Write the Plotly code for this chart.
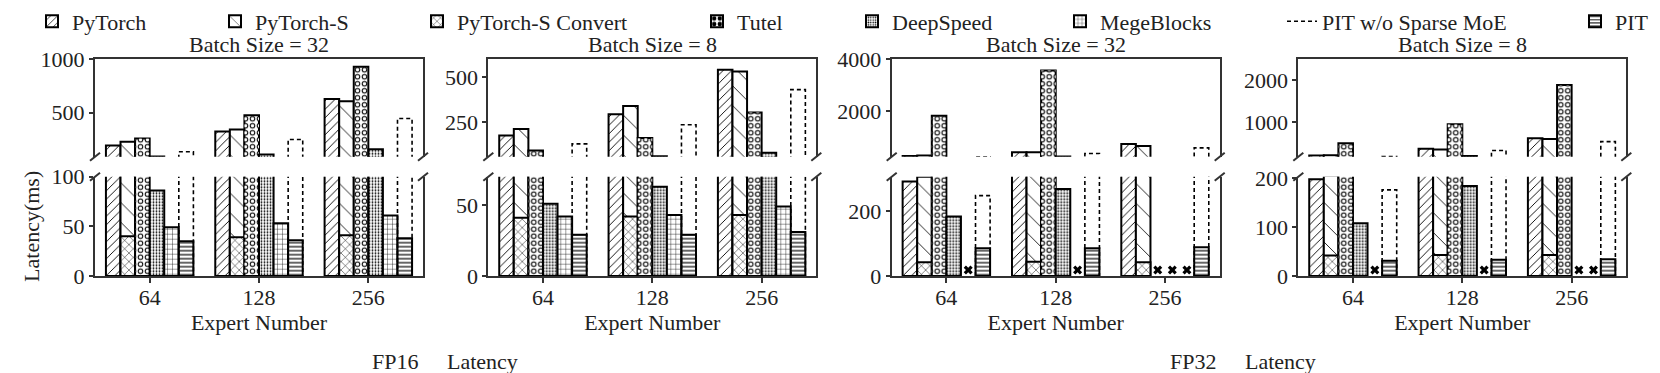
import plotly.graph_objects as go

FONT = "Liberation Serif"
PAGE_W, PAGE_H = 1660, 373
OFF = 8  # default body margin of the html page
W, H = PAGE_W - OFF, PAGE_H - OFF

experts = ["64", "128", "256"]
panel_titles = ["Batch Size = 32", "Batch Size = 8", "Batch Size = 32", "Batch Size = 8"]
bottom_labels = ["FP16", "FP32"]

# latency (ms), one row per panel: FP16 bs32, FP16 bs8, FP32 bs32, FP32 bs8
pytorch = [[190, 322, 628], [177, 296, 542], [290, 432, 751], [198, 359, 609]]
pytorch_s = [[225, 340, 606], [213, 341, 533], [305, 428, 675], [205, 344, 594]]
pytorch_s_convert = [[40, 39, 41], [41, 42, 43], [42, 44, 42], [42, 43, 43]]
tutel = [[256, 475, 931], [95, 164, 305], [1834, 3567, None], [492, 945, 1883]]
deepspeed = [[86, 105, 156], [51, 63, 82], [183, 267, None], [108, 184, None]]
megablocks = [[49, 53, 61], [42, 43, 49], [None, None, None], [None, None, None]]
pit_wo_sparse = [[131, 247, 444], [131, 237, 432], [247, 380, 598], [176, 320, 531]]
pit = [[35, 36, 38], [29, 29, 31], [85, 85, 88], [31, 33, 34]]

# broken y axes
upper_ranges = [[85, 1000], [60, 600], [260, 4000], [170, 2500]]
lower_ranges = [[0, 100], [0, 70], [0, 305], [0, 203]]
upper_ticks = [[500, 1000], [250, 500], [2000, 4000], [1000, 2000]]
lower_ticks = [[0, 50, 100], [0, 50], [0, 200], [0, 100, 200]]

# name, data, slot, pattern shape, size, solidity
bars = [
    ("PyTorch", pytorch, 0, "/", 6, 0.15),
    ("PyTorch-S", pytorch_s, 1, "\\", 14, 0.06),
    ("PyTorch-S Convert", pytorch_s_convert, 1, "x", 6, 0.15),
    ("Tutel", tutel, 2, ".", 7, 0.5),
    ("DeepSpeed", deepspeed, 3, ".", 3, 0.3),
    ("MegeBlocks", megablocks, 4, "+", 5, 0.15),
    ("PIT", pit, 5, "-", 4, 0.3),
]
legend_text_x = {"PyTorch": 72, "PyTorch-S": 255, "PyTorch-S Convert": 457, "Tutel": 737,
                 "DeepSpeed": 892, "MegeBlocks": 1100, "PIT w/o Sparse MoE": 1322, "PIT": 1615}
legend_order = list(legend_text_x)


def fx(px):
    return (px - OFF) / W


def fy(py):
    return 1 - (py - OFF) / H


panel_left = [95, 488.3, 891.7, 1298.3]
panel_w = 328
upper_dom = [fy(156.7), fy(59.3)]
lower_dom = [fy(276), fy(176.7)]

slot_w = 0.8 / 6
xs = [0, 1, 2]
AX = "#333333"
FS = 22

fig = go.Figure()


def legend_key(name):
    i = legend_order.index(name)
    return "legend" if i == 0 else f"legend{i + 1}"


def ax_id(n):
    return "" if n == 1 else str(n)


for p in range(4):
    for part in ("upper", "lower"):
        n = 2 * p + 1 if part == "upper" else 2 * p + 2
        xa, ya = "x" + ax_id(n), "y" + ax_id(n)
        first = p == 0 and part == "lower"
        for name, data, slot, shape, size, sol in bars:
            vals = data[p]
            off = -0.4 + slot * slot_w
            fig.add_trace(go.Bar(
                x=xs, y=vals, width=slot_w, offset=off, name=name,
                xaxis=xa, yaxis=ya, showlegend=first, legend=legend_key(name),
                marker=dict(color="white", line=dict(color="black", width=2),
                            pattern=dict(shape=shape, size=size, solidity=sol,
                                         fgcolor="black", bgcolor="white", fillmode="replace")),
                hoverinfo="skip"))
            if name == "Tutel":
                # hollow the dots into rings
                fig.add_trace(go.Bar(
                    x=xs, y=vals, width=slot_w, offset=off, xaxis=xa, yaxis=ya,
                    showlegend=False, hoverinfo="skip",
                    marker=dict(color="rgba(0,0,0,0)", line=dict(width=0),
                                pattern=dict(shape=".", size=size, solidity=0.2,
                                             fgcolor="white", bgcolor="rgba(0,0,0,0)",
                                             fillmode="replace"))))
        # PIT w/o Sparse MoE: dashed open box
        ox, oy = [], []
        off = -0.4 + 5 * slot_w
        for i, v in enumerate(pit_wo_sparse[p]):
            ox += [i + off, i + off, i + off + slot_w, i + off + slot_w, None]
            oy += [0, v, v, 0, None]
        fig.add_trace(go.Scatter(
            x=ox, y=oy, mode="lines", name="PIT w/o Sparse MoE", xaxis=xa, yaxis=ya,
            line=dict(color="black", width=1.6, dash="4px,3px"),
            showlegend=first, legend=legend_key("PIT w/o Sparse MoE"), hoverinfo="skip"))
        # unsupported cases marked with x
        if part == "lower":
            mx = []
            for name, data, slot, *_ in bars:
                for i, v in enumerate(data[p]):
                    if v is None:
                        mx.append(i - 0.4 + slot * slot_w + slot_w / 2)
            if mx:
                fig.add_trace(go.Scatter(
                    x=mx, y=[lower_ranges[p][1] * 0.06] * len(mx), mode="markers",
                    xaxis=xa, yaxis=ya, showlegend=False, hoverinfo="skip",
                    marker=dict(symbol="x", size=8, color="black")))

layout = dict(
    width=W, height=H, template="none", barmode="overlay",
    margin=dict(l=0, r=0, t=0, b=0, autoexpand=False),
    plot_bgcolor="white", paper_bgcolor="white",
    font=dict(family=FONT, size=FS, color="#222222"), shapes=[], annotations=[],
)

for p in range(4):
    dom = [fx(panel_left[p]), fx(panel_left[p] + panel_w)]
    u, l = 2 * p + 1, 2 * p + 2
    layout["xaxis" + ax_id(u)] = dict(
        domain=dom, range=[-0.5, 2.5], anchor="y" + ax_id(u), side="top", showline=True,
        linecolor=AX, linewidth=2, ticks="", showticklabels=False, showgrid=False,
        zeroline=False, automargin=False)
    layout["yaxis" + ax_id(u)] = dict(
        domain=upper_dom, range=upper_ranges[p], anchor="x" + ax_id(u), showline=True,
        mirror=True, linecolor=AX, linewidth=2, ticks="outside", ticklen=4, tickwidth=2,
        tickcolor=AX, tickvals=upper_ticks[p], showgrid=False, zeroline=False,
        automargin=False, tickfont=dict(size=FS))
    layout["xaxis" + ax_id(l)] = dict(
        domain=dom, range=[-0.5, 2.5], anchor="y" + ax_id(l), showline=True,
        linecolor=AX, linewidth=2, ticks="outside", ticklen=5, tickwidth=2, tickcolor=AX,
        tickvals=xs, ticktext=experts, showgrid=False, zeroline=False, automargin=False,
        tickfont=dict(size=FS), ticklabelstandoff=-4,
        title=dict(text="Expert Number", standoff=0, font=dict(size=FS)))
    layout["yaxis" + ax_id(l)] = dict(
        domain=lower_dom, range=lower_ranges[p], anchor="x" + ax_id(l), showline=True,
        mirror=True, linecolor=AX, linewidth=2, ticks="outside", ticklen=4, tickwidth=2,
        tickcolor=AX, tickvals=lower_ticks[p], showgrid=False, zeroline=False,
        automargin=False, tickfont=dict(size=FS))
    layout["annotations"].append(dict(
        text=panel_titles[p], xref="x" + ax_id(u) + " domain", yref="y" + ax_id(u) + " domain",
        x=0.5, y=1, xanchor="center", yanchor="bottom", showarrow=False,
        font=dict(size=FS)))
    # break marks
    dx, dyu, dyl = 5 / panel_w, 4 / 97.4, 4 / 99.3
    for xe in (0, 1):
        layout["shapes"].append(dict(
            type="line", xref="x" + ax_id(u) + " domain", yref="y" + ax_id(u) + " domain",
            x0=xe - dx, x1=xe + dx, y0=-dyu, y1=dyu, line=dict(color=AX, width=2)))
        layout["shapes"].append(dict(
            type="line", xref="x" + ax_id(l) + " domain", yref="y" + ax_id(l) + " domain",
            x0=xe - dx, x1=xe + dx, y0=1 - dyl, y1=1 + dyl, line=dict(color=AX, width=2)))

layout["yaxis2"]["title"] = dict(text="Latency(ms)", standoff=6, font=dict(size=FS))

for k, lab in enumerate(bottom_labels):
    base = [370, 1168][k]
    layout["annotations"].append(dict(
        text=lab, xref="paper", yref="paper", x=fx(base), y=fy(361),
        xanchor="left", yanchor="middle", showarrow=False, font=dict(size=FS)))
    layout["annotations"].append(dict(
        text="Latency", xref="paper", yref="paper", x=fx(base + 75), y=fy(361),
        xanchor="left", yanchor="middle", showarrow=False, font=dict(size=FS)))

for name in legend_order:
    layout[legend_key(name)] = dict(
        x=fx(legend_text_x[name] - 40), xanchor="left", y=fy(21.5), yanchor="middle",
        orientation="h", bgcolor="rgba(0,0,0,0)", borderwidth=0,
        font=dict(family=FONT, size=FS, color="#222222"))

fig.update_layout(**layout)
fig.write_html("out.html")
